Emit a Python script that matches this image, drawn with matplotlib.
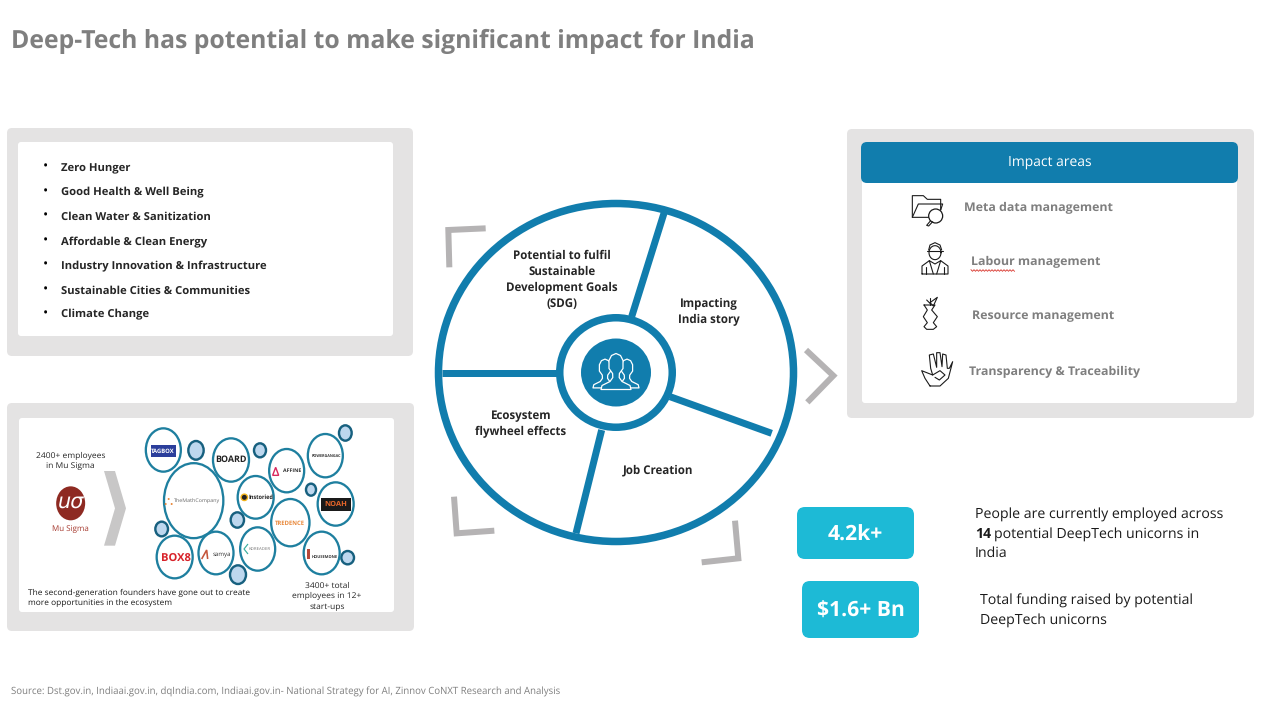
import numpy as np
import matplotlib
matplotlib.use("Agg")
import matplotlib.pyplot as plt
from matplotlib.patches import FancyBboxPatch, Ellipse, Polygon, Circle

plt.rcParams['font.family'] = ['Open Sans', 'DejaVu Sans']
plt.rcParams['text.hinting'] = 'no_hinting'

TITLE = "Deep-Tech has potential to make significant impact for India"
SOURCE = "Source: Dst.gov.in, Indiaai.gov.in, dqIndia.com, Indiaai.gov.in- National Strategy for AI, Zinnov CoNXT Research and Analysis"
SDG_ITEMS = ["Zero Hunger", "Good Health & Well Being", "Clean Water & Sanitization",
             "Affordable & Clean Energy", "Industry Innovation & Infrastructure",
             "Sustainable Cities & Communities", "Climate Change"]
SDG_Y = [167, 192, 216, 241, 265, 290, 314]
IMPACT_ITEMS = ["Meta data management", "Labour management", "Resource management", "Transparency & Traceability"]
IMPACT_X = [964, 971, 972, 969]
IMPACT_Y = [207, 261, 315, 371]
WHEEL_LABELS = ["Potential to fulfil\nSustainable\nDevelopment Goals\n(SDG)", "Impacting\nIndia story",
                "Job Creation", "Ecosystem\nflywheel effects"]
WHEEL_XY = [(562, 280), (709, 312), (658, 470), (521, 424)]
KPI_VALUES = ["4.2k+", "$1.6+ Bn"]

# zoom-space geometry of the start-up bubbles (cx, cy, w, h)
LOGO_BUBBLES = [(490,150,105,130),(693,180,108,130),(860,212,105,130),(976,167,105,130),
                (581,302,178,225),(767,292,108,128),(1007,312,108,130),(871,368,115,142),
                (524,471,108,128),(648,459,105,128),(773,447,105,130),(965,459,108,128)]
SMALL_BUBBLES = [(588,151,46,56),(780,151,36,42),(1036,99,38,46),(933,269,30,36),
                 (712,360,40,46),(485,387,38,44),(714,524,48,56),(1043,473,38,40)]

GREY = "#E4E3E3"; BLUE = "#117DAD"; TEAL = "#1DBAD6"; CHEV = "#B5B3B4"; DARK = "#262626"; MID = "#7F7F7F"

fig = plt.figure(figsize=(12.72, 7.12), dpi=100, facecolor="white")
ax = fig.add_axes([0, 0, 1, 1])
ax.set_xlim(0, 1272); ax.set_ylim(712, 0); ax.axis("off")
PX = 0.72

def box(x0, y0, x1, y1, color, r=5, z=1):
    ax.add_patch(FancyBboxPatch((x0+r, y0+r), x1-x0-2*r, y1-y0-2*r, boxstyle=f"round,pad={r},rounding_size={r}",
                                fc=color, ec="none", zorder=z))
def line(pts, lw, color, z=3, cap="butt", join="miter"):
    p = np.array(pts, float)
    ax.plot(p[:,0], p[:,1], color=color, lw=lw*PX, solid_capstyle=cap, solid_joinstyle=join, zorder=z)
def T(x, y, s, size, color=DARK, weight="normal", ha="left", va="center", z=6, **k):
    return ax.text(x, y+1, s, fontsize=size, color=color, fontweight=weight, ha=ha, va=va, zorder=z, **k)

# title / source
T(11, 40.5, TITLE, 17.85, MID, "bold")
T(11, 691, SOURCE, 6.9, MID)

# panels
box(7, 128, 413, 356, GREY); box(18, 142, 393, 336, "white", 3, 2)
box(7, 403, 414, 631, GREY); box(19, 418, 394, 612, "white", 3, 2)
box(847, 129, 1254, 418, GREY); box(862, 160, 1237, 403, "white", 3, 2)
box(861, 142, 1238, 183, BLUE, 6, 3)

# SDG list
for s, y in zip(SDG_ITEMS, SDG_Y):
    T(43, y-1, "•", 10, "black", ha="left")
    T(61, y, s, 8.1, DARK, "bold")

# Left-bottom panel (zoom-1 space)
def z1(x, y): return x/3, 400 + y/3
for cx, cy, w, h in SMALL_BUBBLES:
    x, y = z1(cx, cy)
    ax.add_patch(Ellipse((x, y), w/3, h/3, fc="#BDD7EE", ec="#17607F", lw=2.4*PX, zorder=4))
for cx, cy, w, h in LOGO_BUBBLES:
    x, y = z1(cx, cy)
    ax.add_patch(Ellipse((x, y), w/3, h/3, fc="white", ec="#1E7F9F", lw=2.3*PX, zorder=4))
LOGOS = [(489,155,"TAGBOX",4.2,"white","bold"),(693,180,"BOARD",6.4,"#222222","bold"),(875,212,"AFFINE",3.8,"#333333","bold"),
         (980,169,"POWERGANGAC",2.7,"#333333","bold"),(592,306,"TheMathCompany",3.9,"#666666","normal"),(782,293,"Instoried",4,"#222222","bold"),
         (871,371,"TREDENCE",4.2,"#E8883A","bold"),(527,478,"BOX8",8,"#D8232A","bold"),(667,463,"samya",4.4,"#333333","normal"),
         (779,447,"KDREADER",3.2,"#777777","normal"),(975,470,"HOUSEMONE",2.9,"#333333","bold")]
x, y = z1(489, 154)
ax.add_patch(plt.Rectangle((x-12.5, y-6), 25, 12, fc="#2B3E9B", ec="none", zorder=5))
for cx, cy, s, fs, c, w in LOGOS:
    x, y = z1(cx, cy); T(x, y-1, s, fs, c, w, ha="center")
x, y = z1(1007, 313)
ax.add_patch(plt.Rectangle((x-15, y-6.5), 30, 13, fc="#1A1A1A", ec="none", zorder=5))
T(x, y-1, "NOAH", 5.4, "#E8662A", "bold", ha="center", z=6)
x, y = z1(827, 214); ax.add_patch(Polygon([(x-3,y+4),(x,y-4),(x+3,y+4)], fc="none", ec="#D8275C", lw=1, zorder=5))
x, y = z1(733, 292); ax.add_patch(Circle((x, y), 3.2, fc="#222222", ec="#F2B31B", lw=1, zorder=5))
x, y = z1(506, 306)
for dx, dy in [(0,-3),(-3,2),(3,2)]:
    ax.add_patch(Circle((x+dx, y+dy), 1, fc="#E8883A", ec="none", zorder=5))
x, y = z1(620, 465); line([(x-5,y+4),(x,y-5),(x+1,y+4)], 1.6, "#C4553B", 5)
x, y = z1(735, 447); line([(x+3,y-5),(x-1,y),(x+3,y+5)], 1.2, "#3AAE9F", 5)
x, y = z1(924, 462); ax.add_patch(plt.Rectangle((x-1.5, y-5), 3, 10, fc="#B5483A", ec="none", zorder=5))

ax.add_patch(Polygon([z1(*p) for p in [(312,213),(345,213),(378,325),(345,437),(312,437),(345,325)]], fc="#C8C7C7", ec="none", zorder=4))
x, y = z1(212, 310)
ax.add_patch(Ellipse((x, y), 29, 34, fc="#8E2A22", ec="none", zorder=4))
T(x, y-2, "uσ", 15, "white", ha="center", family="DejaVu Sans", style="italic")
T(*z1(212, 383), "Mu Sigma", 5.8, "#A63A2F", ha="center")
T(*z1(212, 181), "2400+ employees\nin Mu Sigma", 6.1, DARK, ha="center", linespacing=1.3)
T(*z1(85, 591), "The second-generation founders have gone out to create\nmore opportunities in the ecosystem", 6.0, "#1A1A1A", linespacing=1.3)
T(*z1(981, 586), "3400+ total\nemployees in 12+\nstart-ups", 6.1, DARK, ha="center", linespacing=1.4)

# wheel
C = (616, 372.5)
ax.add_patch(Ellipse(C, 355, 338, fc="white", ec=BLUE, lw=7.5*PX, zorder=3))
def z2(x, y): return 430 + x/3, 190 + y/3
for a, b in [((705,60),(605,380)), ((380,548),(35,548)), ((720,620),(1025,730)), ((515,720),(438,1030))]:
    line([z2(*a), z2(*b)], 7, BLUE, 4)
ax.add_patch(Ellipse(C, 112.5, 109.5, fc="white", ec=BLUE, lw=7.5*PX, zorder=5))
ax.add_patch(Ellipse(C, 70, 68, fc=BLUE, ec="none", zorder=6))
# people icon: three figures drawn back to front
PERSON = [(-3.2,6),(-3.4,2),(-7,-3),(-7,-11),(-4.5,-16),(0,-18),(4.5,-16),(7,-11),(7,-3),(3.4,2),(3.2,6),
          (6,10),(14,14),(15,18),(-15,18),(-14,14),(-6,10)]
for dx, dy, s, zr in [(-11,1,.8,7), (11,1,.8,7), (0,-1,1,8)]:
    ax.add_patch(Polygon([(C[0]+dx+px*s, C[1]+dy+py*s) for px, py in PERSON], fc=BLUE, ec="white", lw=.9, zorder=zr, joinstyle="round"))
for s, (x, y) in zip(WHEEL_LABELS, WHEEL_XY):
    T(x, y-1, s, 8.3, DARK, "bold", ha="center", linespacing=1.47, z=7)

# brackets and chevron
for pts in [[(167,115),(55,120),(58,232)], [(72,920),(80,1030),(193,1022)], [(915,992),(925,1105),(815,1117)], [(1128,480),(1210,557),(1132,637)]]:
    line([z2(*p) for p in pts], 6, CHEV, 3)

# impact panel
T(1049.5, 161, "Impact areas", 10, "white", ha="center", z=7)
for s, x, y in zip(IMPACT_ITEMS, IMPACT_X, IMPACT_Y):
    T(x, y, s, 8.95, MID, "bold")
zz = np.arange(971, 1015.5, 1.5)
ax.plot(zz, 270.5 + 0.8*((np.arange(len(zz)) % 2)*2-1), color="#D9342B", lw=.6, zorder=7)

def z3(x, y): return 850 + x/3, 130 + y/3
def icon(pts, lw=1.1):
    line([z3(*p) for p in pts], lw, "#1A1A1A", 6, "round", "round")
# folder
icon([(240,262),(187,262),(187,197),(220,197),(232,208),(272,208),(272,240)])
icon([(187,262),(205,222),(278,222),(272,240)])
p = z3(257,258); ax.add_patch(Circle(p, 7, fc="white", ec="#1A1A1A", lw=.9, zorder=6))
icon([(242,272),(230,286),(236,288),(248,275)])
# worker
t = np.linspace(0, 2*np.pi, 30)
x0, y0 = z3(255, 368); ax.plot(x0+6*np.cos(t), y0+7*np.sin(t), color="#1A1A1A", lw=.8, zorder=6)
icon([(232,362),(278,362)]); icon([(236,360),(240,345),(255,338),(270,345),(275,360)])
icon([(216,432),(216,408),(238,392),(255,402),(272,392),(294,408),(294,432),(216,432)])
icon([(238,392),(250,432)]); icon([(272,392),(260,432)]); icon([(228,432),(228,412)]); icon([(282,432),(282,412)])
# apple core
icon([(222,525),(255,525),(245,540),(262,560),(250,578),(260,590),(250,598),(230,598),(222,590),(232,578),(220,560),(232,540),(222,525)])
icon([(240,525),(240,505)]); icon([(240,518),(262,502),(250,528),(240,518)]); icon([(240,520),(230,510)])
# hand
icon([(240,768),(270,768),(295,745),(308,695),(298,715),(292,715),(288,675),(278,672),(276,710),(270,668),(260,668),(260,712),(250,672),(238,675),(242,715),(248,735),(215,722),(225,745),(240,768)])
icon([(248,735),(270,722),(285,735),(268,750),(255,742)])

# KPIs
box(797, 507, 914, 559, TEAL, 8, 3)
box(802, 581, 919, 638, TEAL, 8, 3)
T(855.5, 534, KPI_VALUES[0], 15.2, "white", "bold", ha="center")
T(860.5, 610, KPI_VALUES[1], 15.2, "white", "bold", ha="center")
T(975, 513.5, "People are currently employed across", 10.15, "#1A1A1A")
T(975, 533.5, "14", 10.15, "#1A1A1A", "bold")
T(994, 533.5, "potential DeepTech unicorns in", 10.15, "#1A1A1A")
T(975, 552.5, "India", 10.15, "#1A1A1A")
T(980, 599.5, "Total funding raised by potential", 10.15, "#1A1A1A")
T(980, 619.5, "DeepTech unicorns", 10.15, "#1A1A1A")

fig.savefig("out.png", dpi=100)
